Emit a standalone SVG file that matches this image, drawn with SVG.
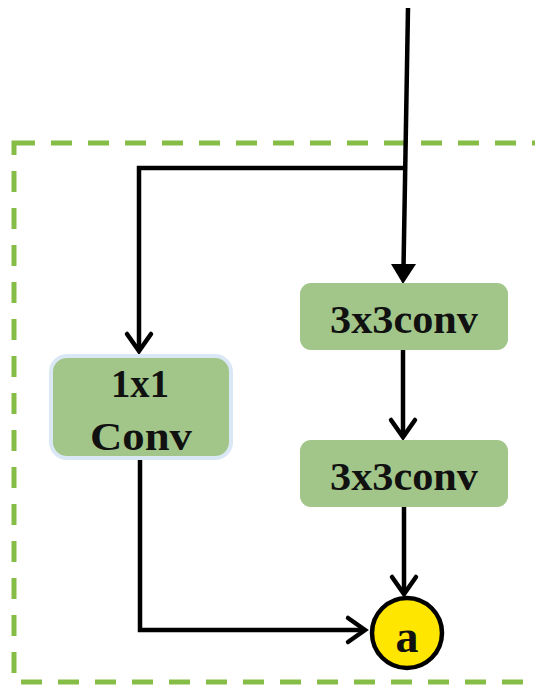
<svg xmlns="http://www.w3.org/2000/svg" width="535" height="687" viewBox="0 0 535 687">
<style>
.ln{fill:none;stroke:#000;stroke-width:4.5;stroke-linejoin:miter}
.chev{fill:none;stroke:#000;stroke-width:4.5;stroke-linecap:round;stroke-linejoin:miter}
.box{fill:#a2c68a}
.t{font-family:"Liberation Serif","Times New Roman",serif;font-weight:bold;fill:#111;text-anchor:middle}
</style>
<rect x="14" y="143" width="540" height="539" fill="none" stroke="#86bd46" stroke-width="5" stroke-dasharray="21,16"/>
<g id="connectors">
<path class="ln" d="M408,8 L403.5,268"/>
<polygon points="391,264 416,264 403,284" fill="#000"/>
<path class="ln" d="M404,168 L139,168 L139,350"/>
<path class="chev" d="M127,334 L139,351 L151,334"/>
<path class="ln" d="M403,350 L403,436"/>
<path class="chev" d="M391,420 L403,437 L415,420"/>
<path class="ln" d="M404,507 L404,593"/>
<path class="chev" d="M392,577 L404,594 L416,577"/>
<path class="ln" d="M140,460 L140,630 L364,630"/>
<path class="chev" d="M348,618 L365,630 L348,642"/>
</g>
<g id="n1x1">
<rect x="51" y="356" width="180" height="102" rx="16" fill="#a2c68a" stroke="#dae8f6" stroke-width="4"/>
<text class="t" x="140" y="397" font-size="40" textLength="58" lengthAdjust="spacingAndGlyphs">1x1</text>
<text class="t" x="141" y="450" font-size="39" textLength="102" lengthAdjust="spacingAndGlyphs">Conv</text>
</g>
<g id="conv1">
<rect class="box" x="300" y="283" width="208" height="67" rx="11"/>
<text class="t" x="404" y="333" font-size="41" textLength="148" lengthAdjust="spacingAndGlyphs">3x3conv</text>
</g>
<g id="conv2">
<rect class="box" x="300" y="440" width="208" height="67" rx="11"/>
<text class="t" x="404" y="490" font-size="41" textLength="148" lengthAdjust="spacingAndGlyphs">3x3conv</text>
</g>
<g id="a">
<circle cx="407" cy="633" r="35" fill="#ffe600" stroke="#000" stroke-width="4.5"/>
<text class="t" x="407" y="652" font-size="46">a</text>
</g>
</svg>
